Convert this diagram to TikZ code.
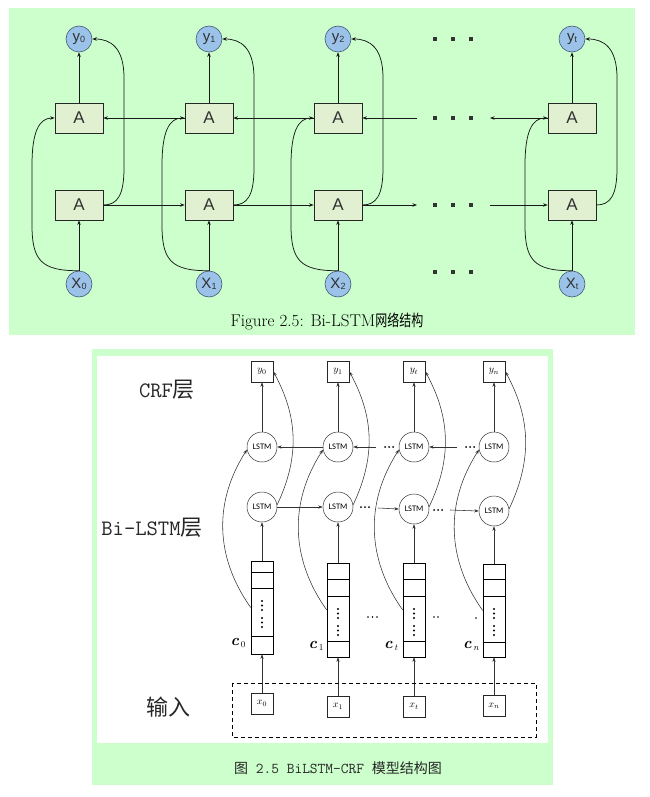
\documentclass[tikz,border=0pt]{standalone}
\usepackage{fontspec}
\newfontfamily\cjk{Noto Sans CJK SC}
\newfontfamily\cjknarrow[FakeStretch=0.75]{Noto Sans CJK SC}
\newfontfamily\arialf{Liberation Sans}
\newfontfamily\calib{Carlito}
\usetikzlibrary{arrows.meta}
\definecolor{panelgreen}{RGB}{204,255,204}
\definecolor{nodeblue}{RGB}{155,194,232}
\definecolor{nodeborder}{RGB}{70,90,120}
\definecolor{boxgreen}{RGB}{224,240,208}
\definecolor{txtgray}{RGB}{50,50,50}
\newcommand\mysub[1]{\raisebox{-1.5pt}{\fontsize{9}{9}\selectfont #1}}
\newcommand\clab[1]{{\fontsize{16}{16}\selectfont\textbf{\textit{c}}}\,\raisebox{-2pt}{\fontsize{9}{9}\selectfont #1}}
\begin{document}
\begin{tikzpicture}[x=1pt,y=-1pt,
 ycirc/.style={circle,draw=nodeborder,fill=nodeblue,line width=0.6pt,minimum size=26pt,inner sep=0pt,text=txtgray,font=\arialf\fontsize{15}{15}\selectfont},
 abox/.style={draw=black!85,fill=boxgreen,line width=0.7pt,minimum width=48pt,minimum height=30pt,inner sep=0pt,text=txtgray,font=\arialf\fontsize{17}{17}\selectfont},
 arr/.style={draw=black!90,line width=0.75pt,-{Stealth[length=4.5pt,width=3.5pt]}},
 lstmnode/.style={circle,draw=black!80,line width=0.5pt,minimum size=30pt,inner sep=0pt,font=\calib\fontsize{8.5}{8.5}\selectfont},
 sqbox/.style={draw=black!85,line width=0.5pt,minimum width=22pt,minimum height=21pt,inner sep=0pt,font=\fontsize{10}{10}\selectfont},
 stackbox/.style={draw=black,line width=0.6pt,minimum width=22pt,inner sep=0pt},
 barr/.style={draw=black!80,line width=0.55pt,-{Stealth[length=4.5pt,width=3.2pt]}},
]
\useasboundingbox (0,0) rectangle (649,797);
\fill[white] (0,0) rectangle (649,797);
% ---------- top panel ----------
\fill[panelgreen] (9,8) rectangle (635,335);
\foreach \c/\n in {79/0,209/1,338/2,572/t}{
  \node[ycirc] (y\n) at (\c,39) {y\mysub{\n}};
  \node[abox] (at\n) at (\c,118) {A};
  \node[abox] (ab\n) at (\c,205) {A};
  \node[ycirc] (x\n) at (\c,284) {X\mysub{\n}};
  \draw[arr] (at\n) -- (y\n);
  \draw[arr] (x\n) -- (ab\n);
  \draw[arr] (x\n.north) .. controls (\c-38,271) and (\c-47,260) .. (\c-47,225) -- (\c-47,165) .. controls (\c-47,132) and (\c-40,118) .. (at\n.west);
  \draw[arr] (ab\n.east) .. controls (\c+38,205) and (\c+45,196) .. (\c+45,168) -- (\c+45,78) .. controls (\c+45,48) and (\c+32,39) .. (y\n.east);
}
\coordinate (tl) at (417,118); \coordinate (tr) at (490,118);
\coordinate (bl) at (417,205); \coordinate (br) at (490,205);
\draw[arr] (at1) -- (at0);
\draw[arr] (at2) -- (at1);
\draw[arr] (tl) -- (at2);
\draw[arr] (att) -- (tr);
\draw[arr] (ab0) -- (ab1);
\draw[arr] (ab1) -- (ab2);
\draw[arr] (ab2) -- (bl);
\draw[arr] (br) -- (abt);
\foreach \yy in {39,118,205,272} \foreach \xx in {435,453,471}
  \fill[black!80] (\xx-2,\yy-1.8) rectangle (\xx+2,\yy+1.8);
\node (cap1) at (327,321) {\fontsize{17}{17}\selectfont Figure 2.5: Bi-LSTM{\cjknarrow\fontsize{16}{16}\selectfont 网络结构}};
% ---------- bottom panel ----------
\fill[panelgreen] (92,349) rectangle (553,785);
\fill[white] (97,356) rectangle (548,743);
\foreach \c/\n/\lb/\st/\tn/\tk/\lo/\sb/\inp in {262/0/507/561/572/588/636/654/703.5, 338/1/507/563/579/596/641/657/706.5, 414/t/509/563/579/596/641/657/706.5, 494/n/511/564/579/596/642/657/706}{
  \node[sqbox] (yb\n) at (\c,371.5) {$y_{\n}$};
  \node[lstmnode] (lt\n) at (\c,447) {LSTM};
  \node[lstmnode] (lb\n) at (\c,\lb) {LSTM};
  \node[stackbox,minimum height={\sb-\st}] (s\n) at (\c,{(\st+\sb)/2}) {};
  \draw[line width=0.4pt] (\c-11,\tn) -- (\c+11,\tn);
  \draw[line width=0.8pt] (\c-11,\tk) -- (\c+11,\tk);
  \draw[line width=0.5pt] (\c-11,\lo) -- (\c+11,\lo);
  \foreach \d in {13,17.5,22,30,34.5,39} \fill (\c,\tk+\d) circle (1.1);
  \node[sqbox] (in\n) at (\c,\inp) {$x_{\n}$};
  \draw[barr] (in\n) -- (s\n);
  \draw[barr] (s\n) -- (lb\n);
  \draw[barr] (lt\n) -- (yb\n);
  \draw[barr] (s\n.west) to[bend left=34] (lt\n.190);
  \draw[barr] (lb\n.8) to[bend right=27] (yb\n.east);
}
\draw[barr] (lb0) -- (lb1);
\coordinate (p1) at (378,508); \draw[barr] (p1) -- (lbt.west);
\coordinate (p2) at (450,510); \draw[barr] (p2) -- (lbn.west);
\draw[barr] (lt1) -- (lt0);
\coordinate (q1) at (376,447); \draw[barr] (q1) -- (lt1.east);
\coordinate (q2) at (457,447); \draw[barr] (q2) -- (ltt.east);
\foreach \xx in {385,389,393,466,470,474} \fill (\xx,447) circle (1);
\foreach \xx in {361,365,369} \fill (\xx,507) circle (1);
\foreach \xx in {434,438,442} \fill (\xx,510) circle (1);
\foreach \xx in {368,372.5,377,434,438} \fill (\xx,617) circle (0.9);
\fill (476,618) circle (0.9);
\node (c0) at (238,643) {\clab{0}};
\node (c1) at (316,646) {\clab{1}};
\node (ct) at (391,646) {\clab{\textit{t}}};
\node (cn) at (471,646) {\clab{\textit{n}}};
\draw[line width=0.6pt,dash pattern=on 4pt off 3pt] (232,683) rectangle (536,737);
\node[text=black!85] (crf) at (167,390) {\ttfamily\fontsize{22}{22}\selectfont CRF{\cjk 层}};
\node[text=black!85] (bil) at (152,528) {\ttfamily\fontsize{22}{22}\selectfont Bi-LSTM{\cjk 层}};
\node[text=black!85] (inp) at (168,707) {\cjk\fontsize{22}{22}\selectfont 输入};
\node[text=black!85] (cap2) at (338,768) {\ttfamily\fontsize{15}{15}\selectfont {\cjk\fontsize{14}{14}\selectfont 图} 2.5 BiLSTM-CRF {\cjk\fontsize{14}{14}\selectfont 模型结构图}};
\end{tikzpicture}
\end{document}
